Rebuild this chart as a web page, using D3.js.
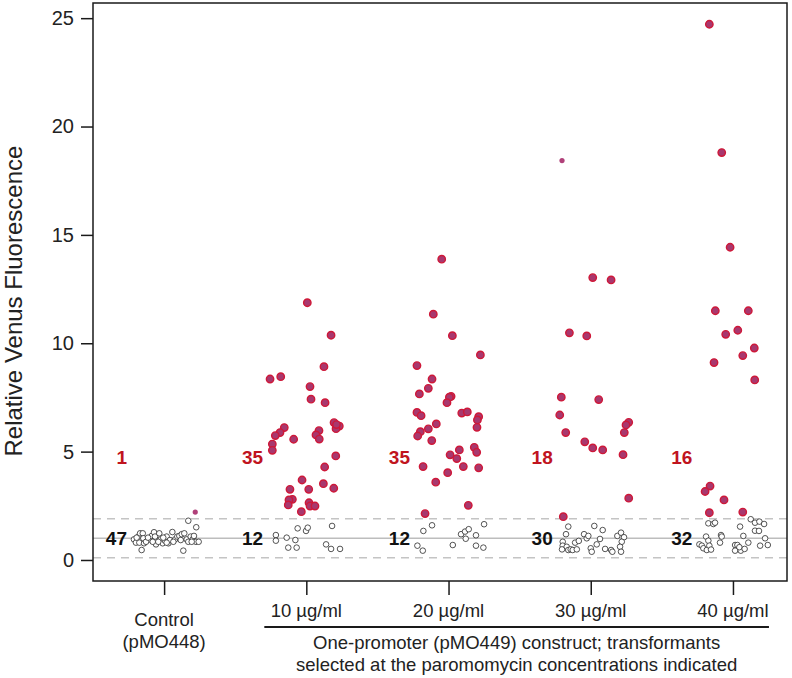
<!DOCTYPE html>
<html>
<head>
<meta charset="utf-8">
<script src="https://cdn.jsdelivr.net/npm/d3@7"></script>
<style>
  html, body { margin: 0; padding: 0; background: #fff; }
  text { font-family: "Liberation Sans", Arial, Helvetica, sans-serif; }
</style>
</head>
<body>
<svg id="chart" width="792" height="678"></svg>
<script>
// ---------------- DATA ----------------
const groupIndex = [1, 2, 3, 4, 5];
const groupLabels = [["Control", "(pMO448)"], ["10 µg/ml"], ["20 µg/ml"], ["30 µg/ml"], ["40 µg/ml"]];
const yTicks = [0, 5, 10, 15, 20, 25];
const redCounts = [1, 35, 35, 18, 16];
const openCounts = [47, 12, 12, 30, 32];
const meanLine = 1.0;
const bandLines = [0.1, 1.9];
const groupTitle = ["One-promoter (pMO449) construct; transformants",
                    "selected at the paromomycin concentrations indicated"];
const yTitle = "Relative Venus Fluorescence";

// points: [jitter (in group units), value]
const ctrlOpen = [[-0.212,0.95],[-0.198,0.80],[-0.181,1.08],[-0.169,1.23],[-0.150,1.23],[-0.174,0.80],[-0.158,0.46],[-0.141,0.77],[-0.146,1.00],[-0.104,0.95],[-0.087,1.11],[-0.071,1.28],[-0.057,0.72],[-0.064,1.08],[-0.034,1.23],[-0.024,0.95],[-0.010,0.77],[0.006,0.89],[0.018,1.08],[0.030,0.77],[0.041,0.92],[0.058,1.29],[0.077,0.95],[0.093,1.08],[0.107,1.11],[0.124,1.19],[0.142,1.23],[0.159,0.95],[0.170,0.84],[0.187,1.08],[0.201,0.95],[0.210,1.11],[0.224,0.84],[0.243,0.84],[0.135,0.43],[0.170,1.81],[0.226,1.51],[-0.041,0.84],[-0.006,1.03],[-0.127,0.84],[-0.113,1.03],[0.065,0.84],[0.117,0.92],[-0.193,1.03],[-0.080,0.84],[0.018,0.80],[0.194,0.84]];
const ctrlRed = [];
const ctrlSmall = [[0.219,2.21]];

const g10Red = [[0.007,11.87],[0.174,10.37],[0.124,8.92],[-0.255,8.35],[-0.180,8.46],[0.026,8.00],[0.033,7.42],[0.132,7.26],[0.195,6.34],[0.232,6.18],[0.209,6.06],[-0.155,6.11],[-0.185,5.88],[-0.218,5.74],[-0.239,5.35],[-0.239,5.06],[-0.089,5.57],[0.089,5.97],[0.068,5.77],[0.091,5.58],[0.207,4.80],[0.129,4.29],[-0.030,3.69],[0.120,3.52],[0.193,3.31],[-0.115,3.26],[0.017,3.26],[-0.098,2.80],[-0.122,2.77],[-0.127,2.54],[0.019,2.64],[0.026,2.49],[0.061,2.49],[-0.035,2.23],[0.212,6.25]];
const g10Open = [[-0.214,1.15],[-0.214,0.89],[-0.138,1.03],[-0.077,0.92],[-0.127,0.57],[-0.068,0.57],[-0.061,1.46],[-0.002,1.34],[0.010,1.49],[0.181,1.57],[0.139,0.72],[0.174,0.51],[0.237,0.51]];

const g20Red = [[-0.048,13.88],[-0.107,11.34],[0.027,10.35],[0.224,9.46],[-0.222,8.97],[-0.116,8.35],[-0.142,7.92],[-0.205,7.66],[0.018,7.55],[0.006,7.51],[-0.011,7.26],[-0.222,6.81],[-0.193,6.66],[0.093,6.78],[0.132,6.83],[0.212,6.61],[0.203,6.46],[0.200,6.12],[-0.086,6.28],[-0.142,6.05],[-0.198,5.92],[-0.217,5.72],[-0.118,5.51],[0.181,5.20],[0.198,4.97],[0.076,5.08],[0.011,4.85],[0.058,4.68],[-0.179,4.31],[0.104,4.31],[0.212,4.25],[-0.006,4.03],[-0.090,3.59],[0.139,2.52],[-0.165,2.14]];
const g20Open = [[-0.219,0.66],[-0.181,0.43],[-0.177,1.34],[-0.116,1.60],[0.030,0.69],[0.088,1.19],[0.116,1.31],[0.142,1.42],[0.121,0.98],[0.193,1.14],[0.193,0.66],[0.245,0.57],[0.250,1.65]];

const g30Red = [[0.014,13.03],[0.143,12.92],[-0.150,10.48],[-0.028,10.34],[-0.207,7.51],[0.056,7.40],[-0.218,6.69],[0.267,6.35],[0.248,6.23],[0.236,5.88],[-0.176,5.88],[-0.042,5.45],[0.014,5.17],[0.084,5.08],[0.227,4.86],[0.267,2.85],[-0.193,2.00]];
const g30Small = [[-0.202,18.43]];
const g30Open = [[-0.158,1.54],[-0.174,1.19],[-0.197,0.84],[-0.197,0.66],[-0.202,0.49],[-0.169,0.61],[-0.158,0.46],[-0.141,0.49],[-0.127,0.46],[-0.098,0.49],[-0.110,0.80],[-0.084,0.88],[-0.047,1.19],[-0.028,1.00],[-0.017,1.11],[0.000,0.54],[0.007,0.38],[0.025,1.57],[0.042,0.72],[0.065,0.97],[0.084,1.38],[0.101,0.51],[0.143,0.46],[0.152,0.38],[0.187,1.11],[0.213,1.26],[0.234,1.05],[0.218,0.84],[0.206,0.61],[0.213,0.38]];

const g40Red = [[-0.166,24.72],[-0.079,18.80],[-0.020,14.43],[-0.124,11.50],[0.108,11.50],[-0.051,10.41],[0.034,10.60],[0.150,9.78],[0.069,9.43],[-0.133,9.11],[0.153,8.31],[-0.161,3.41],[-0.196,3.16],[-0.063,2.77],[-0.166,2.18],[0.069,2.21]];
const g40Open = [[-0.173,1.69],[-0.138,1.66],[-0.126,1.72],[-0.189,1.08],[-0.173,0.89],[-0.236,0.72],[-0.219,0.66],[-0.208,0.54],[-0.184,0.46],[-0.166,0.66],[-0.084,1.15],[-0.079,1.08],[-0.091,0.80],[0.050,1.54],[0.073,1.11],[0.108,0.80],[0.015,0.69],[0.031,0.69],[0.015,0.43],[0.055,0.43],[0.045,0.59],[0.125,1.88],[0.155,1.72],[0.186,1.77],[0.219,1.66],[0.155,1.35],[0.183,1.34],[0.226,1.00],[0.191,0.66],[0.245,0.69],[-0.154,0.48],[0.082,0.51]];

const openSets = [ctrlOpen, g10Open, g20Open, g30Open, g40Open];
const redSets = [ctrlRed, g10Red, g20Red, g30Red, g40Red];
const smallSets = [ctrlSmall, [], [], g30Small, []];

// ---------------- CHART ----------------
const svg = d3.select("#chart");
const W = 792, H = 678;
const plot = { left: 93, right: 787, top: 3, bottom: 581 };

const x = d3.scaleLinear().domain([0.5, 5.38]).range([plot.left, plot.right]);
const y = d3.scaleLinear().domain([-0.97, 25.7]).range([plot.bottom, plot.top]);

svg.append("rect").attr("width", W).attr("height", H).attr("fill", "#fff");

// reference lines
const refG = svg.append("g");
refG.append("line")
  .attr("x1", plot.left).attr("x2", plot.right)
  .attr("y1", y(meanLine)).attr("y2", y(meanLine))
  .attr("stroke", "#bdbdbd").attr("stroke-width", 1.6);
refG.selectAll("line.band").data(bandLines).enter().append("line")
  .attr("class", "band")
  .attr("x1", plot.left).attr("x2", plot.right)
  .attr("y1", d => y(d)).attr("y2", d => y(d))
  .attr("stroke", "#c4c4c4").attr("stroke-width", 1.6)
  .attr("stroke-dasharray", "8,6");

// points
const ptG = svg.append("g");
openSets.forEach((set, i) => {
  ptG.selectAll(null).data(set).enter().append("circle")
    .attr("cx", d => x(groupIndex[i] + d[0]))
    .attr("cy", d => y(d[1]))
    .attr("r", 2.8)
    .attr("fill", "#fff")
    .attr("stroke", "#2a2a2a")
    .attr("stroke-width", 0.8);
});
smallSets.forEach((set, i) => {
  ptG.selectAll(null).data(set).enter().append("circle")
    .attr("cx", d => x(groupIndex[i] + d[0]))
    .attr("cy", d => y(d[1]))
    .attr("r", 2.6)
    .attr("fill", "#b04079");
});
redSets.forEach((set, i) => {
  ptG.selectAll(null).data(set).enter().append("circle")
    .attr("cx", d => x(groupIndex[i] + d[0]))
    .attr("cy", d => y(d[1]))
    .attr("r", 3.7)
    .attr("fill", "#a8386e")
    .attr("stroke", "#cf1838")
    .attr("stroke-width", 1.4);
});

// count labels: placed just left of the leftmost point of each group
const labelX = i => {
  const all = openSets[i].concat(redSets[i], smallSets[i]);
  return x(groupIndex[i] + d3.min(all, d => d[0])) - 7;
};
const lblG = svg.append("g").attr("font-weight", "bold").attr("font-size", "19px");
lblG.selectAll(null).data(redCounts).enter().append("text")
  .attr("x", (d, i) => labelX(i))
  .attr("y", y(4.75))
  .attr("dy", "0.36em")
  .attr("text-anchor", "end")
  .attr("fill", "#c0141e")
  .text(d => d);
lblG.selectAll(null).data(openCounts).enter().append("text")
  .attr("x", (d, i) => labelX(i))
  .attr("y", y(meanLine))
  .attr("dy", "0.36em")
  .attr("text-anchor", "end")
  .attr("fill", "#111")
  .text(d => d);

// frame
svg.append("rect")
  .attr("x", plot.left).attr("y", plot.top)
  .attr("width", plot.right - plot.left).attr("height", plot.bottom - plot.top)
  .attr("fill", "none").attr("stroke", "#1a1a1a").attr("stroke-width", 1.5);

// y axis
const yAxis = svg.append("g")
  .attr("transform", `translate(${plot.left},0)`)
  .call(d3.axisLeft(y).tickValues(yTicks).tickSize(12).tickPadding(7));
yAxis.select(".domain").remove();
yAxis.selectAll(".tick line").attr("stroke", "#1a1a1a").attr("stroke-width", 1.5);
yAxis.selectAll(".tick text").attr("font-size", "20px").attr("fill", "#222")
  .attr("font-family", "'Liberation Sans', Arial, sans-serif");

// x axis
const xAxis = svg.append("g")
  .attr("transform", `translate(0,${plot.bottom})`)
  .call(d3.axisBottom(x).tickValues(groupIndex).tickSize(14).tickFormat(""));
xAxis.select(".domain").remove();
xAxis.selectAll(".tick line").attr("stroke", "#1a1a1a").attr("stroke-width", 1.5);

const xl = svg.append("g").attr("font-size", "18.5px").attr("fill", "#222").attr("text-anchor", "middle");
groupLabels.forEach((lines, i) => {
  const t = xl.append("text")
    .attr("x", x(groupIndex[i]))
    .attr("y", i === 0 ? 625.5 : 616.5);
  lines.forEach((s, j) => {
    t.append("tspan").attr("x", x(groupIndex[i])).attr("dy", j === 0 ? 0 : 22).text(s);
  });
});

// bracket line under treatment groups
const brL = x(groupIndex[1]) - 42, brR = x(groupIndex[4]) + 36;
svg.append("line")
  .attr("x1", brL).attr("x2", brR)
  .attr("y1", 627).attr("y2", 627)
  .attr("stroke", "#1a1a1a").attr("stroke-width", 2);

const gt = svg.append("text")
  .attr("x", (brL + brR) / 2)
  .attr("y", 648.5)
  .attr("text-anchor", "middle")
  .attr("font-size", "18.5px").attr("fill", "#222");
groupTitle.forEach((s, j) => {
  gt.append("tspan").attr("x", (brL + brR) / 2)
    .attr("dy", j === 0 ? 0 : 22).text(s);
});

// y title
svg.append("text")
  .attr("transform", `translate(22,${(y(0) + y(25)) / 2 + 12}) rotate(-90)`)
  .attr("text-anchor", "middle")
  .attr("font-size", "24px").attr("fill", "#222")
  .text(yTitle);
</script>
</body>
</html>
